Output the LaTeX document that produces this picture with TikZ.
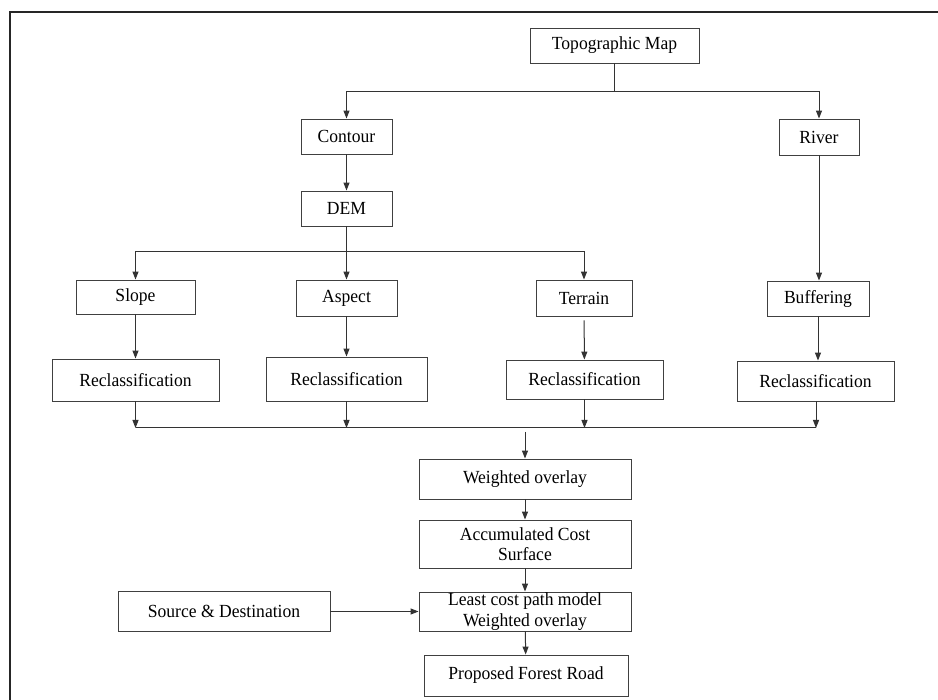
\documentclass[tikz,border=0pt]{standalone}
\usepackage{fontspec}
\setmainfont{Liberation Serif}[FakeStretch=0.95]
\usetikzlibrary{arrows.meta}
\begin{document}
\begin{tikzpicture}[x=1pt,y=-1pt,
  box/.style={draw=black!75, line width=0.9pt, fill=white, inner sep=0pt, align=center,
    font=\fontsize{18.5}{20.5}\selectfont},
  conn/.style={draw=black!80, line width=1pt},
  arr/.style={conn, -{Triangle[length=8pt,width=6pt]}}]
\useasboundingbox (0,0) rectangle (938,700);
\fill[white] (0,0) rectangle (938,700);
\draw[line width=1.8pt, black!85] (10,701) -- (10,12) -- (939,12);
% nodes
\node[box, minimum width=169pt, minimum height=35pt] (topo) at (614.5,45.5) {Topographic Map};
\node[box, minimum width=91pt, minimum height=35pt] (contour) at (346.5,136.5) {Contour};
\node[box, minimum width=80pt, minimum height=36pt] (river) at (819,137) {River};
\node[box, minimum width=91pt, minimum height=35pt] (dem) at (346.5,208.5) {DEM};
\node[box, minimum width=119pt, minimum height=34pt] (slope) at (135.5,297) {Slope};
\node[box, minimum width=101pt, minimum height=36pt] (aspect) at (346.5,298) {Aspect};
\node[box, minimum width=96pt, minimum height=36pt] (terrain) at (584,298) {Terrain};
\node[box, minimum width=102pt, minimum height=35pt] (buffer) at (818,298.5) {Buffering};
\node[box, minimum width=167pt, minimum height=42pt] (rc1) at (135.5,380) {Reclassification};
\node[box, minimum width=161pt, minimum height=44pt] (rc2) at (346.5,379) {Reclassification};
\node[box, minimum width=157pt, minimum height=39pt] (rc3) at (584.5,379.5) {Reclassification};
\node[box, minimum width=157pt, minimum height=40pt] (rc4) at (815.5,381) {Reclassification};
\node[box, minimum width=212pt, minimum height=40pt] (wo) at (525,479) {Weighted overlay};
\node[box, minimum width=212pt, minimum height=48pt] (acs) at (525,544) {Accumulated Cost\\Surface};
\node[box, minimum width=212pt, minimum height=39pt] (lcp) at (525,611.5) {Least cost path model\\Weighted overlay};
\node[box, minimum width=212pt, minimum height=40pt] (src) at (224,611.5) {Source \& Destination};
\node[box, minimum width=204pt, minimum height=41pt] (pfr) at (526,675.5) {Proposed Forest Road};
% junctions
\coordinate (j1) at (614.5,92);
\coordinate (j2) at (346.5,252);
\coordinate (m1) at (135.5,428);
\coordinate (m2) at (346.5,428);
\coordinate (m3) at (584.5,428);
\coordinate (m4) at (816,428);
\coordinate (m0) at (525,432);
% connectors
\draw[conn] (topo.south) -- (j1);
\draw[arr] (j1) -| (contour.north);
\draw[arr] (j1) -| (river.north);
\draw[arr] (contour) -- (dem);
\draw[arr] (dem.south) -- (aspect.north);
\draw[arr] (j2) -| (slope.north);
\draw[arr] (j2) -| (terrain.north);
\draw[arr] (river.south) -- (river.south |- buffer.north);
\draw[arr] (slope) -- (rc1);
\draw[arr] (aspect) -- (rc2);
\draw[arr, shorten <=4pt] (terrain) -- (rc3);
\draw[arr] (buffer.south) -- (buffer.south |- rc4.north);
\draw[arr] (rc1.south) -- (m1);
\draw[arr] (rc2.south) -- (m2);
\draw[arr] (rc3.south) -- (m3);
\draw[arr] (rc4.south -| m4) -- (m4);
\draw[conn] (m1) -- (m4);
\draw[arr] (m0) -- (wo.north);
\draw[arr] (wo) -- (acs);
\draw[arr] (acs) -- (lcp);
\draw[arr] (lcp) -- (pfr);
\draw[arr] (src) -- (lcp);
\end{tikzpicture}
\end{document}
